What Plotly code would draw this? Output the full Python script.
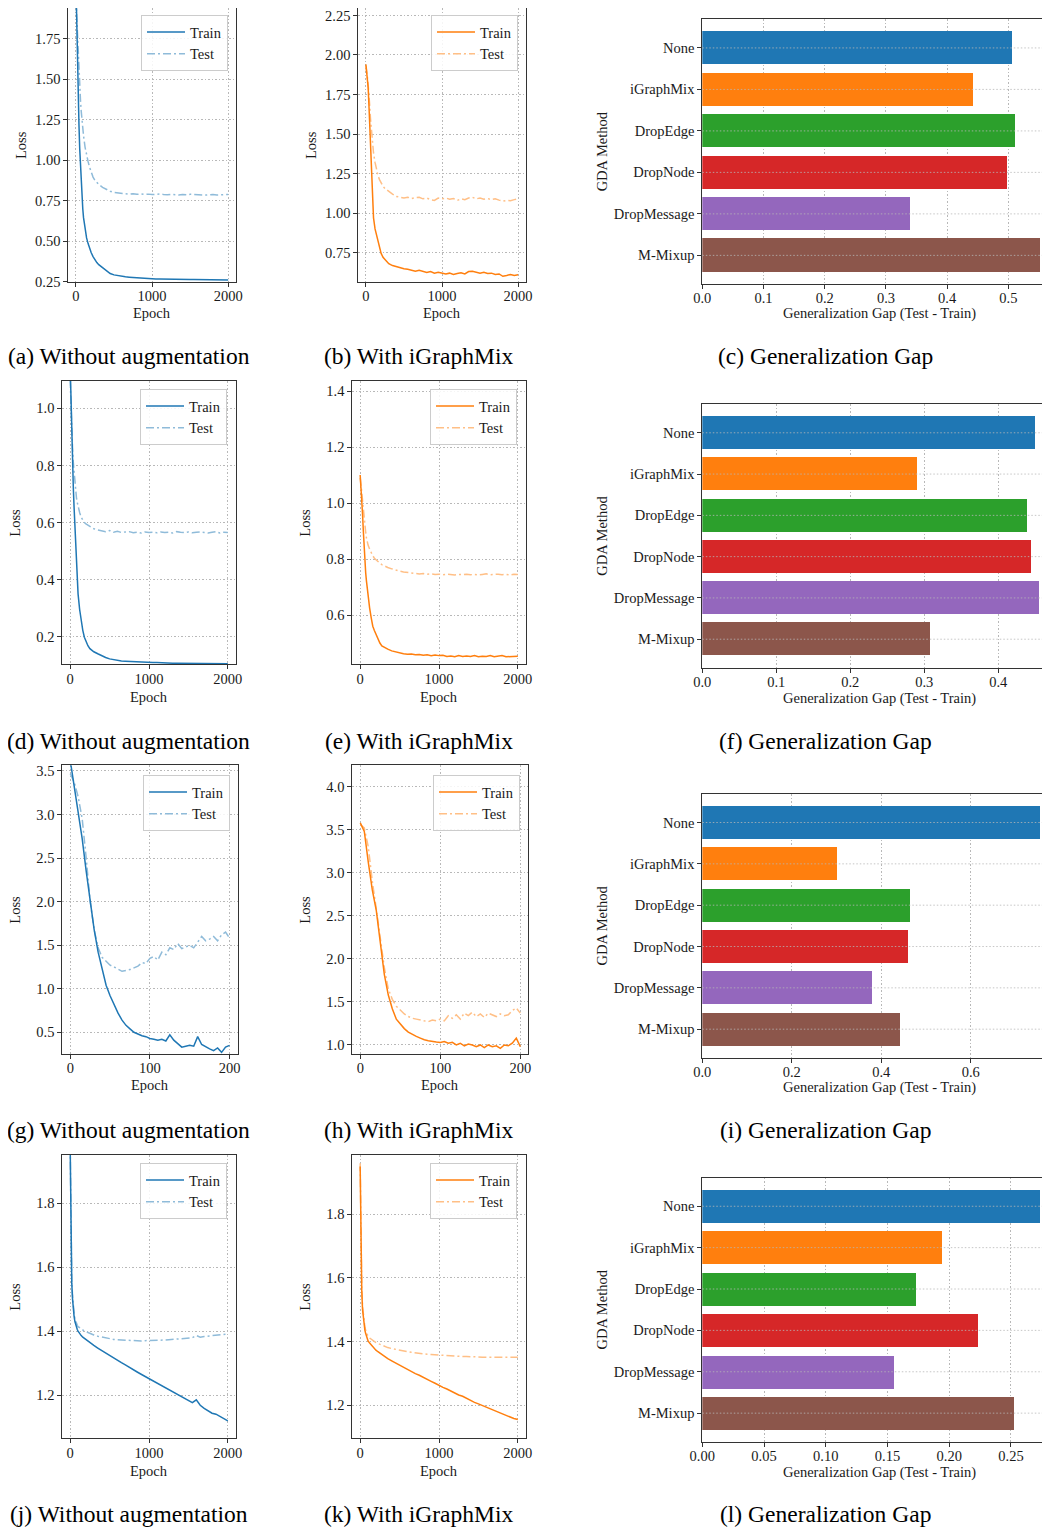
import plotly.graph_objects as go

# target picture size; the page body adds an 8px margin, so the figure is drawn 8px smaller
W, H = 1050, 1527
OFF = 8
FW, FH = W - OFF, H - OFF
FONT = "Liberation Serif, Times New Roman, Times, serif"

# ---------------- data ----------------
EPOCH_LONG = [0, 10, 20, 30, 40, 50, 60, 70, 80, 90, 100, 120, 140, 160, 180, 200, 225, 250, 275, 300,
              350, 400, 450, 500, 550, 600, 650, 700, 750, 800, 850, 900, 950, 1000,
              1050, 1100, 1150, 1200, 1250, 1300, 1350, 1400, 1450, 1500,
              1550, 1600, 1650, 1700, 1750, 1800, 1850, 1900, 1950, 2000]
EPOCH_SHORT = [0, 5, 10, 15, 20, 25, 30, 35, 40, 45, 50, 55, 60, 65, 70, 75, 80, 85, 90, 95, 100,
               105, 110, 115, 120, 125, 130, 135, 140, 145, 150, 155, 160, 165, 170, 175, 180,
               185, 190, 195, 200]

# (a) without augmentation
A_TRAIN = [2.10, 1.82, 1.60, 1.40, 1.22, 1.07, 0.95, 0.85, 0.77, 0.70, 0.645, 0.57, 0.52, 0.485, 0.455, 0.43, 0.405, 0.385, 0.368, 0.355,
           0.335, 0.315, 0.30, 0.292, 0.287, 0.283, 0.280, 0.278, 0.276, 0.274, 0.272, 0.270, 0.269, 0.268,
           0.267, 0.267, 0.266, 0.266, 0.265, 0.265, 0.264, 0.264, 0.264, 0.263, 0.263, 0.263, 0.262, 0.262, 0.262, 0.262, 0.261, 0.261, 0.261, 0.261]
A_TEST = [2.00, 1.88, 1.77, 1.66, 1.55, 1.45, 1.37, 1.30, 1.24, 1.19, 1.15, 1.08, 1.03, 0.99, 0.955, 0.925, 0.895, 0.875, 0.86, 0.85,
          0.832, 0.818, 0.808, 0.800, 0.796, 0.794, 0.792, 0.790, 0.793, 0.789, 0.791, 0.788, 0.790, 0.787,
          0.789, 0.791, 0.788, 0.786, 0.789, 0.787, 0.785, 0.788, 0.786, 0.789, 0.787, 0.785, 0.787, 0.784, 0.786, 0.788, 0.785, 0.787, 0.786, 0.788]
# (b) with iGraphMix
B_TRAIN = [1.94, 1.90, 1.85, 1.79, 1.68, 1.56, 1.45, 1.30, 1.16, 1.05, 0.97, 0.90, 0.86, 0.82, 0.775, 0.745, 0.72, 0.705, 0.695, 0.68,
           0.668, 0.66, 0.655, 0.648, 0.645, 0.64, 0.632, 0.638, 0.630, 0.625, 0.63, 0.62, 0.625, 0.622,
           0.615, 0.62, 0.612, 0.618, 0.622, 0.615, 0.63, 0.632, 0.625, 0.62, 0.625, 0.618, 0.62, 0.612, 0.615, 0.60, 0.605, 0.612, 0.605, 0.61]
B_TEST = [1.93, 1.90, 1.86, 1.81, 1.76, 1.68, 1.60, 1.53, 1.47, 1.42, 1.38, 1.32, 1.27, 1.235, 1.21, 1.19, 1.17, 1.155, 1.145, 1.135,
          1.12, 1.105, 1.10, 1.095, 1.10, 1.092, 1.098, 1.10, 1.09, 1.095, 1.085, 1.08, 1.095, 1.09,
          1.095, 1.088, 1.092, 1.08, 1.09, 1.085, 1.095, 1.10, 1.09, 1.095, 1.088, 1.092, 1.085, 1.09, 1.082, 1.075, 1.08, 1.078, 1.085, 1.09]
# (d)
D_TRAIN = [1.15, 1.02, 0.90, 0.80, 0.72, 0.65, 0.59, 0.50, 0.43, 0.385, 0.35, 0.295, 0.255, 0.222, 0.198, 0.182, 0.168, 0.158, 0.152, 0.147,
           0.14, 0.133, 0.127, 0.122, 0.119, 0.117, 0.115, 0.114, 0.113, 0.112, 0.111, 0.111, 0.110, 0.110,
           0.109, 0.109, 0.108, 0.108, 0.108, 0.107, 0.107, 0.107, 0.107, 0.106, 0.106, 0.106, 0.106, 0.106, 0.105, 0.105, 0.105, 0.105, 0.105, 0.105]
D_TEST = [1.10, 1.00, 0.92, 0.86, 0.81, 0.77, 0.735, 0.705, 0.685, 0.67, 0.655, 0.635, 0.618, 0.607, 0.60, 0.595, 0.59, 0.585, 0.58, 0.578,
          0.574, 0.57, 0.568, 0.572, 0.566, 0.569, 0.565, 0.567, 0.568, 0.564, 0.566, 0.563, 0.567, 0.565,
          0.566, 0.564, 0.567, 0.565, 0.566, 0.563, 0.568, 0.566, 0.565, 0.567, 0.564, 0.566, 0.567, 0.565, 0.563, 0.566, 0.568, 0.563, 0.566, 0.565]
# (e)
E_TRAIN = [1.10, 1.06, 1.02, 0.96, 0.90, 0.84, 0.79, 0.75, 0.72, 0.69, 0.665, 0.625, 0.59, 0.56, 0.545, 0.53, 0.515, 0.50, 0.49, 0.485,
           0.478, 0.472, 0.468, 0.466, 0.462, 0.46, 0.461, 0.458, 0.459, 0.456, 0.458, 0.455, 0.457, 0.455,
           0.456, 0.452, 0.454, 0.451, 0.455, 0.452, 0.454, 0.452, 0.455, 0.451, 0.453, 0.452, 0.455, 0.451, 0.453, 0.455, 0.451, 0.452, 0.454, 0.453]
E_TEST = [1.09, 1.07, 1.04, 1.01, 0.975, 0.945, 0.915, 0.895, 0.875, 0.86, 0.85, 0.835, 0.822, 0.812, 0.803, 0.797, 0.79, 0.785, 0.78, 0.776,
          0.77, 0.765, 0.76, 0.757, 0.754, 0.752, 0.75, 0.749, 0.747, 0.748, 0.746, 0.747, 0.745, 0.746,
          0.744, 0.746, 0.745, 0.743, 0.745, 0.744, 0.746, 0.744, 0.745, 0.743, 0.745, 0.747, 0.744, 0.745, 0.746, 0.744, 0.745, 0.743, 0.746, 0.745]
# (g)
G_TRAIN = [3.62, 3.33, 3.05, 2.72, 2.35, 1.98, 1.68, 1.42, 1.22, 1.04, 0.92, 0.81, 0.72, 0.64, 0.58, 0.54, 0.50, 0.48, 0.46, 0.45, 0.43,
           0.42, 0.41, 0.42, 0.40, 0.47, 0.41, 0.37, 0.33, 0.34, 0.35, 0.34, 0.45, 0.36, 0.33, 0.31, 0.29, 0.32, 0.27, 0.33, 0.35]
G_TEST = [3.47, 3.37, 3.20, 2.95, 2.50, 2.00, 1.68, 1.47, 1.36, 1.31, 1.27, 1.25, 1.22, 1.20, 1.21, 1.22, 1.24, 1.26, 1.30, 1.29, 1.35,
          1.37, 1.33, 1.42, 1.39, 1.47, 1.45, 1.52, 1.46, 1.48, 1.50, 1.47, 1.53, 1.60, 1.55, 1.57, 1.60, 1.55, 1.62, 1.65, 1.58]
# (h)
H_TRAIN = [3.58, 3.48, 3.12, 2.80, 2.56, 2.17, 1.82, 1.58, 1.42, 1.30, 1.24, 1.19, 1.15, 1.12, 1.10, 1.08, 1.06, 1.05, 1.04, 1.035, 1.03,
           1.04, 1.02, 1.03, 1.00, 1.02, 0.99, 1.01, 1.00, 0.98, 1.00, 0.97, 1.00, 0.98, 0.99, 0.96, 1.00, 0.99, 1.02, 1.08, 0.98]
H_TEST = [3.56, 3.52, 3.30, 2.90, 2.58, 2.22, 1.90, 1.65, 1.53, 1.45, 1.40, 1.36, 1.33, 1.31, 1.30, 1.29, 1.28, 1.27, 1.29, 1.28, 1.30,
          1.28, 1.34, 1.31, 1.35, 1.30, 1.37, 1.34, 1.38, 1.33, 1.36, 1.32, 1.37, 1.35, 1.33, 1.36, 1.34, 1.35, 1.40, 1.43, 1.37]
# (j)
J_TRAIN = [1.98, 1.65, 1.55, 1.50, 1.465, 1.445, 1.43, 1.42, 1.412, 1.405, 1.40, 1.392, 1.386, 1.381, 1.377, 1.373, 1.368, 1.363, 1.359, 1.355,
           1.347, 1.339, 1.331, 1.323, 1.316, 1.308, 1.301, 1.294, 1.286, 1.279, 1.272, 1.265, 1.258, 1.251,
           1.244, 1.237, 1.230, 1.223, 1.216, 1.209, 1.202, 1.195, 1.188, 1.181, 1.176, 1.185, 1.168, 1.158, 1.150, 1.143, 1.140, 1.133, 1.126, 1.119]
J_TEST = [1.98, 1.66, 1.56, 1.51, 1.475, 1.455, 1.44, 1.43, 1.423, 1.418, 1.414, 1.41, 1.406, 1.403, 1.40, 1.398, 1.395, 1.392, 1.39, 1.388,
          1.384, 1.381, 1.378, 1.376, 1.374, 1.373, 1.372, 1.371, 1.370, 1.370, 1.369, 1.369, 1.370, 1.370,
          1.371, 1.371, 1.372, 1.372, 1.373, 1.374, 1.375, 1.376, 1.377, 1.378, 1.379, 1.386, 1.381, 1.383, 1.384, 1.385, 1.386, 1.388, 1.389, 1.391]
# (k)
K_TRAIN = [1.95, 1.66, 1.56, 1.50, 1.47, 1.45, 1.435, 1.425, 1.415, 1.408, 1.402, 1.395, 1.389, 1.383, 1.378, 1.373, 1.368, 1.363, 1.358, 1.354,
           1.346, 1.339, 1.332, 1.325, 1.319, 1.313, 1.306, 1.299, 1.294, 1.287, 1.282, 1.275, 1.269, 1.262,
           1.256, 1.251, 1.244, 1.238, 1.232, 1.228, 1.221, 1.215, 1.209, 1.204, 1.199, 1.193, 1.188, 1.183, 1.178, 1.172, 1.168, 1.163, 1.158, 1.155]
K_TEST = [1.96, 1.67, 1.57, 1.51, 1.48, 1.46, 1.445, 1.435, 1.427, 1.421, 1.416, 1.411, 1.407, 1.403, 1.40, 1.397, 1.394, 1.391, 1.388, 1.386,
          1.381, 1.378, 1.375, 1.372, 1.370, 1.368, 1.366, 1.364, 1.363, 1.361, 1.360, 1.359, 1.358, 1.357,
          1.356, 1.356, 1.355, 1.354, 1.354, 1.353, 1.353, 1.352, 1.352, 1.352, 1.351, 1.351, 1.351, 1.350, 1.350, 1.350, 1.350, 1.351, 1.352, 1.351]

METHODS = ["None", "iGraphMix", "DropEdge", "DropNode", "DropMessage", "M-Mixup"]
GAP_C = [0.507, 0.442, 0.511, 0.499, 0.3405, 0.552]
GAP_F = [0.4496, 0.290, 0.4388, 0.4442, 0.456, 0.3077]
GAP_I = [0.7548, 0.301, 0.464, 0.4597, 0.381, 0.4416]
GAP_L = [0.2735, 0.1941, 0.1731, 0.2233, 0.1552, 0.2524]

CAPTIONS = [
    ["(a) Without augmentation", "(b) With iGraphMix", "(c) Generalization Gap"],
    ["(d) Without augmentation", "(e) With iGraphMix", "(f) Generalization Gap"],
    ["(g) Without augmentation", "(h) With iGraphMix", "(i) Generalization Gap"],
    ["(j) Without augmentation", "(k) With iGraphMix", "(l) Generalization Gap"],
]

# ---------------- style ----------------
BAR_COLORS = ["#1f77b4", "#ff7f0e", "#2ca02c", "#d62728", "#9467bd", "#8c564b"]
TRAIN_COL = {"blue": "#1f77b4", "orange": "#ff7f0e"}
TEST_COL = {"blue": "#8fbbd9", "orange": "#ffbf86"}
GRID = "#b8b8b8"
GRID_DASH = "1.5px,2px"
SPINE = "#333333"
TXT = "#1a1a1a"
FS = 14.5


def fx(px):
    return min(1.0, max(0.0, (px - OFF) / FW))


def fy(py):
    return min(1.0, max(0.0, 1 - (py - OFF) / FH))


def ax_names(p):
    s = "" if p == 1 else str(p)
    return "xaxis" + s, "yaxis" + s, "x" + s, "y" + s


line_panels = [
    dict(p=1, box=(68.3, 235.8, 8, 282), xr=[-100, 2100], yr=[0.248, 1.938], xdt=1000, ydt=0.25, yfmt=".2f",
         x=EPOCH_LONG, tr=A_TRAIN, te=A_TEST, c="blue", leg=(228, 15), row=0),
    dict(p=2, box=(358.3, 525.7, 8, 282), xr=[-100, 2100], yr=[0.564, 2.297], xdt=1000, ydt=0.25, yfmt=".2f",
         x=EPOCH_LONG, tr=B_TRAIN, te=B_TEST, c="orange", leg=(518, 15), row=0),
    dict(p=4, box=(62.3, 235.7, 381, 664.3), xr=[-100, 2100], yr=[0.103, 1.096], xdt=1000, ydt=0.2, yfmt=".1f",
         x=EPOCH_LONG, tr=D_TRAIN, te=D_TEST, c="blue", leg=(227, 389), row=1),
    dict(p=5, box=(352.3, 525.7, 381, 664.3), xr=[-100, 2100], yr=[0.424, 1.436], xdt=1000, ydt=0.2, yfmt=".1f",
         x=EPOCH_LONG, tr=E_TRAIN, te=E_TEST, c="orange", leg=(517, 389), row=1),
    dict(p=7, box=(62.3, 237.5, 765.3, 1054), xr=[-10, 210], yr=[0.251, 3.565], xdt=100, ydt=0.5, yfmt=".1f",
         x=EPOCH_SHORT, tr=G_TRAIN, te=G_TEST, c="blue", leg=(230, 775), row=2),
    dict(p=8, box=(352.3, 528.3, 765.3, 1054), xr=[-10, 210], yr=[0.895, 4.248], xdt=100, ydt=0.5, yfmt=".1f",
         x=EPOCH_SHORT, tr=H_TRAIN, te=H_TEST, c="orange", leg=(520, 775), row=2),
    dict(p=10, box=(62.3, 235.7, 1155, 1438.3), xr=[-100, 2100], yr=[1.0645, 1.951], xdt=1000, ydt=0.2, yfmt=".1f",
         x=EPOCH_LONG, tr=J_TRAIN, te=J_TEST, c="blue", leg=(227, 1163), row=3),
    dict(p=11, box=(352.3, 525.7, 1155, 1438.3), xr=[-100, 2100], yr=[1.096, 1.986], xdt=1000, ydt=0.2, yfmt=".1f",
         x=EPOCH_LONG, tr=K_TRAIN, te=K_TEST, c="orange", leg=(517, 1163), row=3),
]

bar_panels = [
    dict(p=3, box=(702.3, 1050, 19.3, 284), xmax=0.568, xdt=0.1, xfmt=".1f", vals=GAP_C, row=0),
    dict(p=6, box=(702.3, 1050, 404.3, 667.7), xmax=0.470, xdt=0.1, xfmt=".1f", vals=GAP_F, row=1),
    dict(p=9, box=(702.3, 1050, 794, 1057.7), xmax=0.777, xdt=0.2, xfmt=".1f", vals=GAP_I, row=2),
    dict(p=12, box=(702.3, 1050, 1177.7, 1441.7), xmax=0.2816, xdt=0.05, xfmt=".2f", vals=GAP_L, row=3),
]

EPOCH_TITLE_Y = [313, 696.7, 1085, 1470.7]
GAP_TITLE_Y = [313.3, 698.3, 1087.3, 1472.3]
CAPTION_Y = [356, 741, 1130, 1514]
CAPTION_X = [128.5, 418.5, 825.5]

fig = go.Figure()
layout = {}
annotations = []
shapes = []

common_axis = dict(
    showline=True, linecolor=SPINE, linewidth=1, ticks="outside", ticklen=4, tickwidth=1, tickcolor=SPINE,
    zeroline=False, automargin=False, ticklabeloverflow="allow",
    tickfont=dict(family=FONT, size=FS, color=TXT),
)

for k, pn in enumerate(line_panels):
    p = pn["p"]
    xa, ya, xr_, yr_ = ax_names(p)
    l, r, t, b = pn["box"]
    leg_name = "legend" if k == 0 else "legend%d" % (k + 1)
    fig.add_trace(go.Scatter(
        x=pn["x"], y=pn["te"], mode="lines", name="Test", legend=leg_name, legendrank=2,
        line=dict(color=TEST_COL[pn["c"]], width=1.5, dash="8px,3px,2px,3px"),
        xaxis=xr_, yaxis=yr_))
    fig.add_trace(go.Scatter(
        x=pn["x"], y=pn["tr"], mode="lines", name="Train", legend=leg_name, legendrank=1,
        line=dict(color=TRAIN_COL[pn["c"]], width=1.5),
        xaxis=xr_, yaxis=yr_))
    layout[xa] = dict(common_axis, domain=[fx(l), fx(r)], range=pn["xr"], anchor=yr_, tick0=0, dtick=pn["xdt"],
                      mirror=True, showgrid=True, gridcolor=GRID, gridwidth=0.8, griddash=GRID_DASH,
                      ticklabelstandoff=-3)
    layout[ya] = dict(common_axis, domain=[fy(b), fy(t)], range=pn["yr"], anchor=xr_, tick0=0, dtick=pn["ydt"],
                      tickformat=pn["yfmt"], mirror=True, showgrid=True, gridcolor=GRID, gridwidth=0.8,
                      griddash=GRID_DASH)
    lx, ly = pn["leg"]
    layout[leg_name] = dict(
        x=fx(lx), y=fy(ly), xanchor="right", yanchor="top", xref="paper", yref="paper",
        bgcolor="rgba(255,255,255,0.85)", bordercolor="#cccccc", borderwidth=1, itemwidth=38,
        font=dict(family=FONT, size=FS, color=TXT), traceorder="normal")
    # axis titles
    annotations.append(dict(text="Loss", x=fx(l - 47.3), y=fy((t + b) / 2), xref="paper", yref="paper",
                            textangle=-90, showarrow=False, xanchor="center", yanchor="middle",
                            font=dict(family=FONT, size=FS, color=TXT)))
    annotations.append(dict(text="Epoch", x=fx((l + r) / 2), y=fy(EPOCH_TITLE_Y[pn["row"]]), xref="paper",
                            yref="paper", showarrow=False, xanchor="center", yanchor="middle",
                            font=dict(family=FONT, size=FS, color=TXT)))

for pn in bar_panels:
    p = pn["p"]
    xa, ya, xr_, yr_ = ax_names(p)
    l, r, t, b = pn["box"]
    fig.add_trace(go.Bar(
        x=pn["vals"], y=METHODS, orientation="h", width=0.8, marker=dict(color=BAR_COLORS, line=dict(width=0)),
        showlegend=False, xaxis=xr_, yaxis=yr_))
    layout[xa] = dict(common_axis, domain=[fx(l), fx(r)], range=[0, pn["xmax"]], anchor=yr_, tick0=0,
                      dtick=pn["xdt"], tickformat=pn["xfmt"], mirror=True, showgrid=True, gridcolor=GRID,
                      gridwidth=0.8, griddash=GRID_DASH, ticklabelstandoff=-3)
    layout[ya] = dict(common_axis, domain=[fy(b), fy(t)], type="category", categoryorder="array",
                      categoryarray=METHODS, range=[len(METHODS) - 1 + 0.69, -0.69], anchor=xr_, mirror=False,
                      showgrid=False)
    for m in METHODS:
        shapes.append(dict(type="line", xref=xr_ + " domain", x0=0, x1=1, yref=yr_, y0=m, y1=m,
                           line=dict(color=GRID, width=0.8, dash=GRID_DASH), layer="above"))
    annotations.append(dict(text="GDA Method", x=fx(601.7), y=fy((t + b) / 2), xref="paper", yref="paper",
                            textangle=-90, showarrow=False, xanchor="center", yanchor="middle",
                            font=dict(family=FONT, size=FS, color=TXT)))
    annotations.append(dict(text="Generalization Gap (Test - Train)", x=fx(879.5), y=fy(GAP_TITLE_Y[pn["row"]]),
                            xref="paper", yref="paper", showarrow=False, xanchor="center", yanchor="middle",
                            font=dict(family=FONT, size=FS, color=TXT)))

for ri, row in enumerate(CAPTIONS):
    for ci, cap in enumerate(row):
        annotations.append(dict(text=cap, x=fx(CAPTION_X[ci]), y=fy(CAPTION_Y[ri]), xref="paper", yref="paper",
                                showarrow=False, xanchor="center", yanchor="middle",
                                font=dict(family=FONT, size=23.5, color="#000000")))

fig.update_layout(
    width=FW, height=FH, margin=dict(l=0, r=0, t=0, b=0, pad=0, autoexpand=False),
    paper_bgcolor="white", plot_bgcolor="white",
    font=dict(family=FONT, size=FS, color=TXT),
    annotations=annotations, shapes=shapes, bargap=0,
    **layout,
)

fig.write_html("out.html")
